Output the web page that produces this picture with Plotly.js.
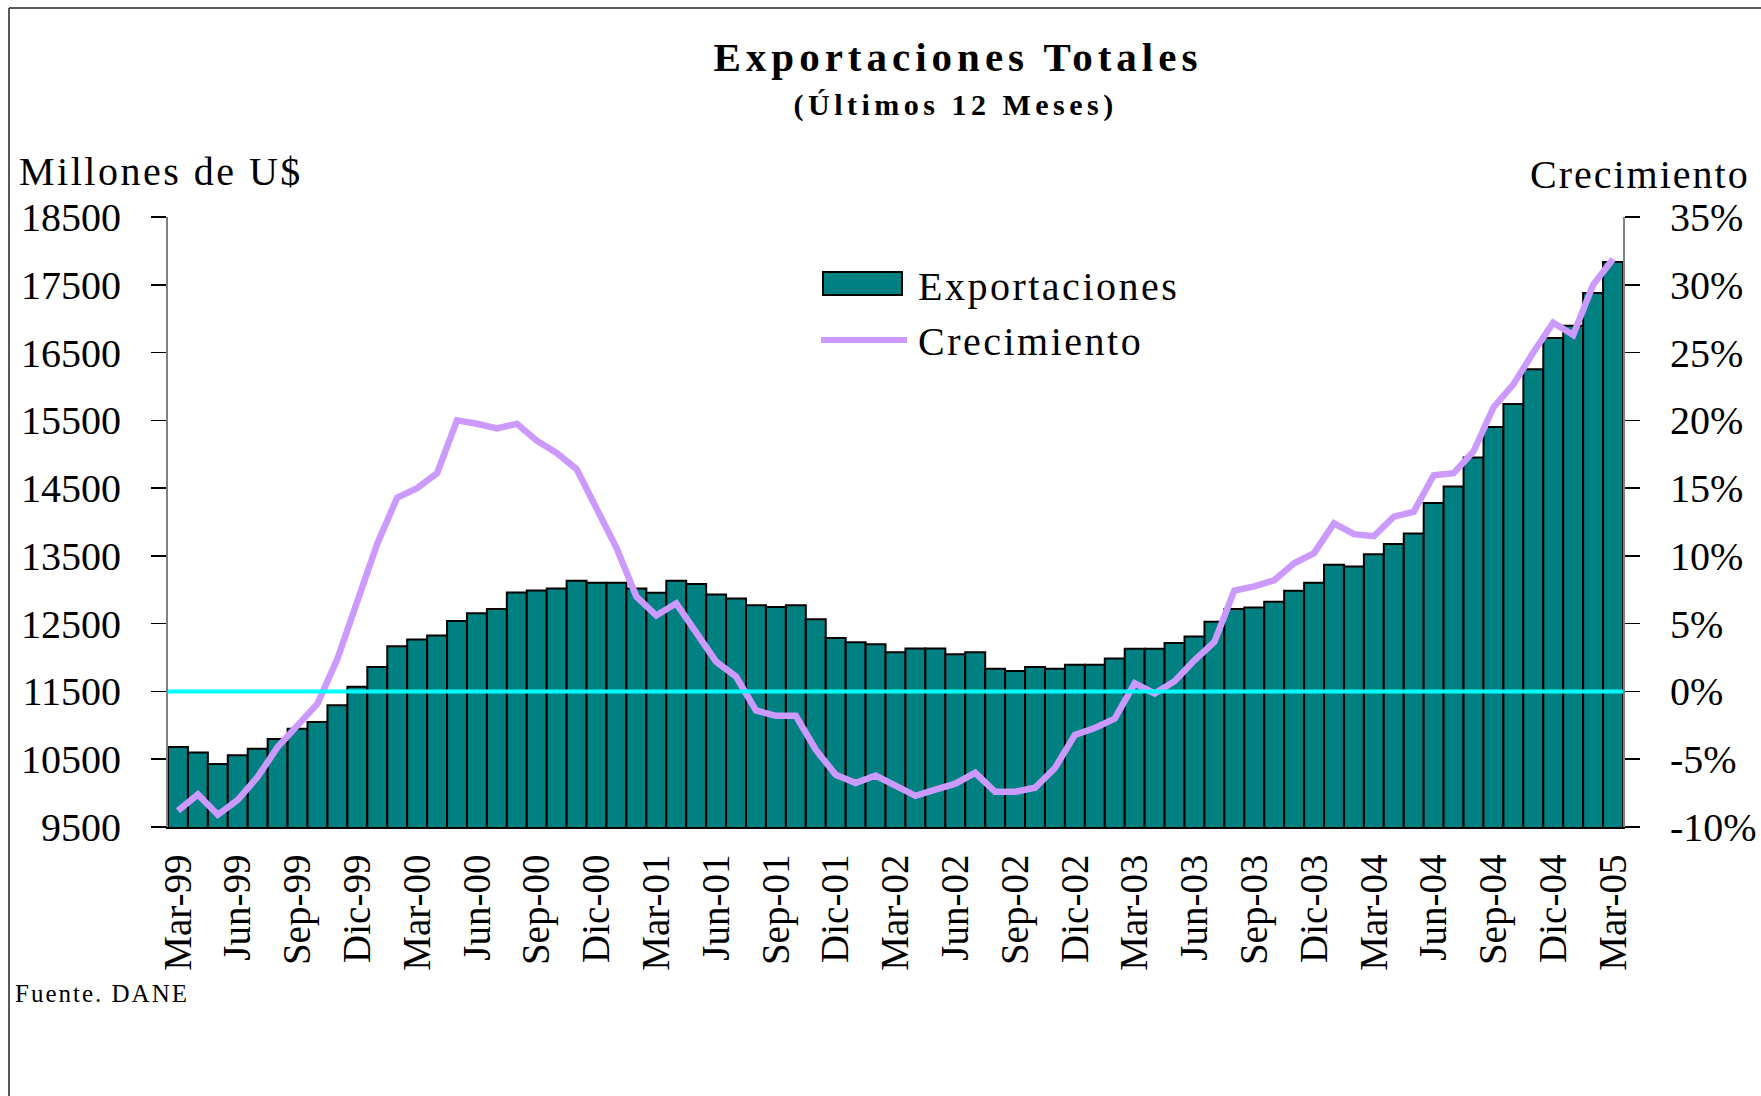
<!DOCTYPE html>
<html><head><meta charset="utf-8">
<script src="https://cdn.plot.ly/plotly-3.0.1.min.js"></script>
<style>html,body{margin:0;padding:0;background:#fff}</style>
</head><body><div id="chart" style="width:1761px;height:1096px"></div>
<script>
const months = ['Mar-99','Abr-99','May-99','Jun-99','Jul-99','Ago-99','Sep-99','Oct-99','Nov-99','Dic-99',
 'Ene-00','Feb-00','Mar-00','Abr-00','May-00','Jun-00','Jul-00','Ago-00','Sep-00','Oct-00','Nov-00','Dic-00',
 'Ene-01','Feb-01','Mar-01','Abr-01','May-01','Jun-01','Jul-01','Ago-01','Sep-01','Oct-01','Nov-01','Dic-01',
 'Ene-02','Feb-02','Mar-02','Abr-02','May-02','Jun-02','Jul-02','Ago-02','Sep-02','Oct-02','Nov-02','Dic-02',
 'Ene-03','Feb-03','Mar-03','Abr-03','May-03','Jun-03','Jul-03','Ago-03','Sep-03','Oct-03','Nov-03','Dic-03',
 'Ene-04','Feb-04','Mar-04','Abr-04','May-04','Jun-04','Jul-04','Ago-04','Sep-04','Oct-04','Nov-04','Dic-04',
 'Ene-05','Feb-05','Mar-05'];
const exportaciones = [10680,10600,10430,10560,10655,10800,10950,11050,11295,11570,
 11860,12165,12265,12325,12540,12655,12715,12960,12990,13020,13135,13105,
 13105,13020,12955,13135,13085,12930,12870,12770,12745,12770,12565,12290,
 12225,12195,12080,12135,12135,12050,12080,11835,11800,11860,11835,11895,
 11895,11985,12130,12130,12215,12310,12530,12715,12740,12825,12985,13105,
 13370,13345,13525,13675,13830,14280,14525,14950,15400,15740,16255,16715,
 16895,17380,17835];
const crecimiento = [-8.8,-7.6,-9.1,-8.0,-6.3,-4.1,-2.5,-0.9,2.4,6.7,
 10.9,14.3,15.0,16.1,20.0,19.75,19.4,19.75,18.5,17.6,16.4,13.5,
 10.6,7.0,5.6,6.5,4.4,2.2,1.1,-1.4,-1.8,-1.8,-4.3,-6.15,
 -6.75,-6.2,-6.95,-7.7,-7.25,-6.8,-6.0,-7.4,-7.4,-7.1,-5.65,-3.2,
 -2.7,-2.0,0.6,-0.15,0.75,2.3,3.65,7.45,7.75,8.2,9.45,10.2,
 12.4,11.6,11.45,12.9,13.25,15.95,16.1,17.7,20.95,22.65,25.0,27.2,
 26.3,30.0,31.9];
const quarterTicks = ['Mar-99','Jun-99','Sep-99','Dic-99','Mar-00','Jun-00','Sep-00','Dic-00',
 'Mar-01','Jun-01','Sep-01','Dic-01','Mar-02','Jun-02','Sep-02','Dic-02','Mar-03','Jun-03',
 'Sep-03','Dic-03','Mar-04','Jun-04','Sep-04','Dic-04','Mar-05'];
const leftTickVals = [9500,10500,11500,12500,13500,14500,15500,16500,17500,18500];
const leftTickText = ['9500','10500','11500','12500','13500','14500','15500','16500','17500','18500'];
const rightTickVals = [-10,-5,0,5,10,15,20,25,30,35];
const rightTickText = ['-10%','-5%','0%','5%','10%','15%','20%','25%','30%','35%'];
const zeroRefX = [0,1];
const zeroRefY = [0,0];

const FONT = 'Liberation Serif, Times New Roman, serif';
const TEAL = '#008080';
const LILAC = '#CC99FF';

const traces = [
  {type:'bar', x:months, y:exportaciones, name:'Exportaciones',
   marker:{color:TEAL, line:{color:'#000', width:2}}, xaxis:'x', yaxis:'y', showlegend:false},
  {type:'scatter', mode:'lines', x:zeroRefX, y:zeroRefY, xaxis:'x2', yaxis:'y2',
   line:{color:'#00FFFF', width:4}, showlegend:false, hoverinfo:'skip'},
  {type:'scatter', mode:'lines', x:months, y:crecimiento, name:'Crecimiento', xaxis:'x', yaxis:'y2',
   line:{color:LILAC, width:6.5}, showlegend:false}
];

// pixel helpers for layout decorations (paper coords)
const L=168, R=138, T=217, B=269, W=1761, H=1096;
const PW=W-L-R, PH=H-T-B;
const px = v => (v-L)/PW;
const py = v => (H-B-v)/PH;

const layout = {
  width:W, height:H,
  margin:{l:L, r:R, t:T, b:B, pad:0},
  paper_bgcolor:'#fff', plot_bgcolor:'#fff',
  font:{family:FONT, color:'#000', size:40},
  bargap:0,
  showlegend:false,
  xaxis:{type:'category', range:[-0.5,72.5], tickvals:quarterTicks, ticktext:quarterTicks,
    tickangle:-90, ticks:'', showline:true, linecolor:'#000', linewidth:2,
    showgrid:false, zeroline:false, tickfont:{family:FONT, size:39}, ticklabelstandoff:10},
  xaxis2:{overlaying:'x', range:[0,1], visible:false, fixedrange:true},
  yaxis:{range:[9500,18500], tickvals:leftTickVals, ticktext:leftTickText,
    ticks:'outside', ticklen:15, tickwidth:1.5, tickcolor:'#000',
    showline:true, linecolor:'#808080', linewidth:2, showgrid:false, zeroline:false,
    tickfont:{family:FONT, size:40}, ticklabelstandoff:22},
  yaxis2:{range:[-10,35], overlaying:'y', side:'right', anchor:'x', tickvals:rightTickVals, ticktext:rightTickText,
    ticks:'outside', ticklen:15, tickwidth:1.5, tickcolor:'#000',
    showline:true, linecolor:'#808080', linewidth:2, showgrid:false, zeroline:false,
    tickfont:{family:FONT, size:40}, ticklabelstandoff:22},
  yaxis3:{range:[9500,18500], overlaying:'y', side:'left', anchor:'x', tickvals:leftTickVals,
    ticks:'inside', ticklen:15, tickwidth:1.5, tickcolor:'#000', showticklabels:false,
    showline:false, showgrid:false, zeroline:false},
  yaxis4:{range:[-10,35], overlaying:'y', side:'right', anchor:'x', tickvals:rightTickVals,
    ticks:'inside', ticklen:15, tickwidth:1.5, tickcolor:'#000', showticklabels:false,
    showline:false, showgrid:false, zeroline:false},
  shapes:[
    {type:'line', xref:'paper', yref:'paper', x0:px(9), x1:px(9), y0:py(1200), y1:py(8), line:{color:'#222', width:1.5}},
    {type:'line', xref:'paper', yref:'paper', x0:px(9), x1:px(1800), y0:py(8), y1:py(8), line:{color:'#222', width:1.5}},
    {type:'rect', xref:'paper', yref:'paper', x0:px(823), x1:px(902), y0:py(295), y1:py(272), fillcolor:TEAL, line:{color:'#000', width:2}},
    {type:'line', xref:'paper', yref:'paper', x0:px(821), x1:px(907), y0:py(340), y1:py(340), line:{color:LILAC, width:6}}
  ],
  annotations:[
    {xref:'paper', yref:'paper', x:px(958), y:py(57), xanchor:'center', yanchor:'middle', showarrow:false, align:'center',
     text:'<b>Exportaciones Totales</b>', font:{family:FONT, size:41}},
    {xref:'paper', yref:'paper', x:px(955), y:py(105), xanchor:'center', yanchor:'middle', showarrow:false, align:'center',
     text:'<b>(Últimos 12 Meses)</b>', font:{family:FONT, size:30}},
    {xref:'paper', yref:'paper', x:px(17), y:py(171), xanchor:'left', yanchor:'middle', showarrow:false, align:'left',
     text:'Millones de U$', font:{family:FONT, size:40}},
    {xref:'paper', yref:'paper', x:px(1752), y:py(175), xanchor:'right', yanchor:'middle', showarrow:false, align:'right',
     text:'Crecimiento', font:{family:FONT, size:40}},
    {xref:'paper', yref:'paper', x:px(916), y:py(286), xanchor:'left', yanchor:'middle', showarrow:false, align:'left',
     text:'Exportaciones', font:{family:FONT, size:40}},
    {xref:'paper', yref:'paper', x:px(916), y:py(341), xanchor:'left', yanchor:'middle', showarrow:false, align:'left',
     text:'Crecimiento', font:{family:FONT, size:40}},
    {xref:'paper', yref:'paper', x:px(13), y:py(993), xanchor:'left', yanchor:'middle', showarrow:false, align:'left',
     text:'Fuente. DANE', font:{family:FONT, size:25}}
  ]
};

const spacing = {'0':'5px','1':'4.5px','2':'2.5px','3':'2px','4':'2.5px','5':'2.5px','6':'2px'};
Plotly.newPlot('chart', traces, layout, {displayModeBar:false, staticPlot:true}).then(gd => {
  gd.querySelectorAll('.annotation').forEach(g => {
    const i = g.getAttribute('data-index');
    const t = g.querySelector('text');
    if (t && spacing[i]) t.style.letterSpacing = spacing[i];
  });
});
</script>
</body></html>
